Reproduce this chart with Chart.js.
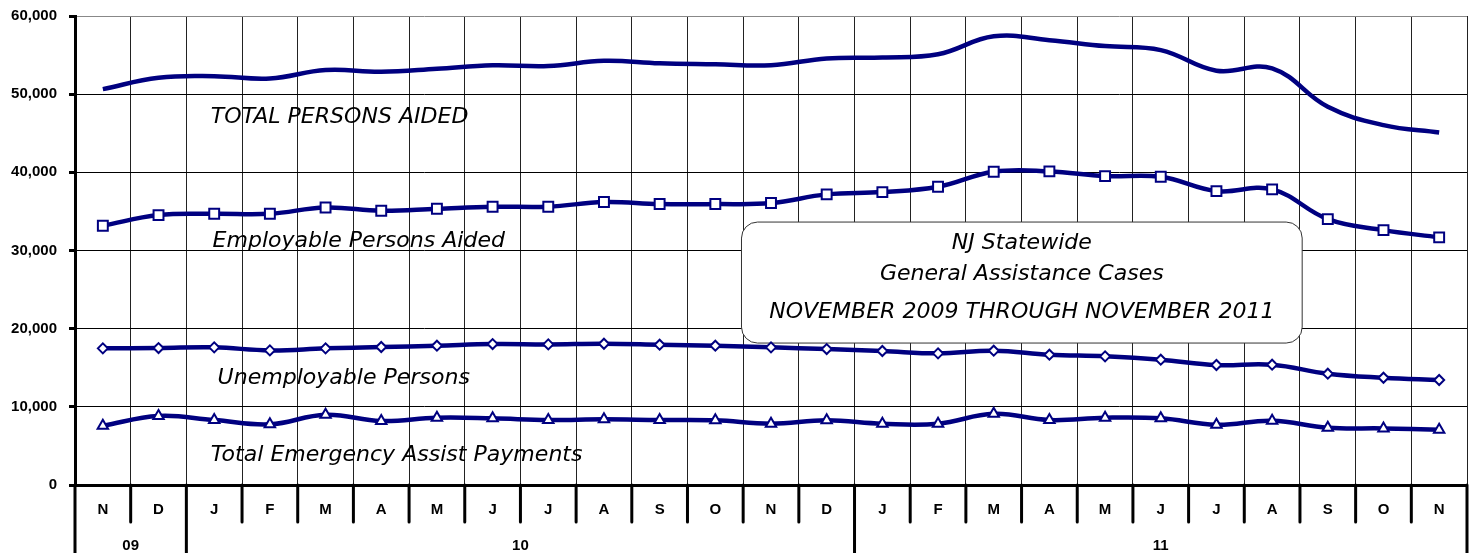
<!DOCTYPE html>
<html>
<head>
<meta charset="utf-8">
<script src="https://cdn.jsdelivr.net/npm/chart.js@4/dist/chart.umd.min.js"></script>
<style>
html,body{margin:0;padding:0;background:#fff;}
#wrap{width:1477px;height:553px;}
</style>
</head>
<body>
<div id="wrap"><canvas id="c" width="1477" height="553"></canvas></div>
<script>
const months = ['N','D','J','F','M','A','M','J','J','A','S','O','N','D','J','F','M','A','M','J','J','A','S','O','N'];
const years = ['09','10','11'];
const yearStart = [0, 2, 14];
const yearCount = [2, 12, 11];

const totalPersons = [50650,52100,52300,52000,53080,52860,53250,53700,53600,54270,53950,53820,53700,54570,54700,55100,57400,56900,56150,55640,53000,53300,48380,46040,45100];
const employable = [33160,34530,34700,34700,35500,35080,35340,35600,35600,36200,35940,35940,36070,37180,37470,38150,40070,40120,39520,39430,37600,37820,34020,32610,31680];
const unemployable = [17480,17520,17610,17220,17480,17650,17820,18030,17990,18070,17950,17820,17610,17390,17140,16840,17180,16670,16460,16030,15350,15390,14240,13720,13430];
const emergency = [7590,8830,8310,7760,8990,8190,8610,8530,8310,8400,8310,8270,7840,8270,7840,7840,9100,8310,8610,8530,7710,8230,7330,7240,7070];

const seriesLabels = ['TOTAL PERSONS AIDED','Employable Persons Aided','Unemployable Persons','Total Emergency Assist Payments'];
const seriesLabelAt = [[1.94,47070],[1.97,31200],[2.06,13560],[1.94,3710]];
const titleLines = ['NJ Statewide','General Assistance Cases','NOVEMBER 2009 THROUGH NOVEMBER 2011'];
const titleBox = {x0:11.47, x1:21.54, y0:33640, y1:18160};
const titleLineAt = [33640-2690, 33640-6780, 33640-11520];

const NAVY = '#000080';
const ITALIC = 'italic 21px "DejaVu Sans"';
const STRETCH = 1.05;
const BOLD = 'bold 15px "Liberation Sans", Arial, sans-serif';

function ds(label, data, style, radius){
  return {
    label, data,
    borderColor: NAVY, borderWidth: 4.5,
    pointStyle: style, pointRadius: radius, pointHoverRadius: radius,
    pointBackgroundColor: '#fff', pointBorderColor: NAVY, pointBorderWidth: 2,
    tension: 0.4, fill: false
  };
}

function stretchedText(ctx, s, px, py, align){
  const w = ctx.measureText(s).width * STRETCH;
  let left = px;
  if (align === 'center') left = px - w / 2;
  ctx.save();
  ctx.translate(left, py);
  ctx.scale(STRETCH, 1);
  ctx.textAlign = 'left';
  ctx.fillText(s, 0, 0);
  ctx.restore();
}

const decor = {
  id: 'decor',
  beforeDatasetsDraw(chart){
    const {ctx, scales:{x, y}} = chart;
    const l = x.getPixelForValue(titleBox.x0), r = x.getPixelForValue(titleBox.x1);
    const t = y.getPixelForValue(titleBox.y0), b = y.getPixelForValue(titleBox.y1);
    ctx.save();
    ctx.beginPath();
    ctx.roundRect(l, t, r - l, b - t, 16);
    ctx.fillStyle = '#fff';
    ctx.fill();
    ctx.lineWidth = 1;
    ctx.strokeStyle = '#333';
    ctx.stroke();
    ctx.restore();
  },
  afterDatasetsDraw(chart){
    const {ctx, scales:{x, y}} = chart;
    ctx.save();
    ctx.fillStyle = '#000';
    ctx.font = ITALIC;
    ctx.textBaseline = 'middle';
    seriesLabels.forEach((s, i) => {
      stretchedText(ctx, s, x.getPixelForValue(seriesLabelAt[i][0]), y.getPixelForValue(seriesLabelAt[i][1]), 'left');
    });
    const cx = (x.getPixelForValue(titleBox.x0) + x.getPixelForValue(titleBox.x1)) / 2;
    titleLines.forEach((s, i) => {
      stretchedText(ctx, s, cx, y.getPixelForValue(titleLineAt[i]), 'center');
    });
    ctx.restore();
  },
  afterDraw(chart){
    const {ctx, scales:{x}} = chart;
    const top = chart.chartArea.bottom;
    const H = chart.height;
    ctx.save();
    ctx.strokeStyle = '#000';
    ctx.lineWidth = 3;
    ctx.lineCap = 'round';
    const yearBounds = new Set(yearStart.map(s => s - 0.5).concat([months.length - 0.5]));
    for (let i = 0; i <= months.length; i++) {
      const v = i - 0.5;
      const px = x.getPixelForValue(v);
      const full = yearBounds.has(v);
      ctx.beginPath();
      ctx.moveTo(px, top);
      ctx.lineTo(px, full ? H + 2 : top + 37);
      ctx.stroke();
    }
    ctx.fillStyle = '#000';
    ctx.font = BOLD;
    ctx.textAlign = 'center';
    ctx.textBaseline = 'middle';
    years.forEach((yl, i) => {
      const a = x.getPixelForValue(yearStart[i] - 0.5);
      const b = x.getPixelForValue(yearStart[i] + yearCount[i] - 0.5);
      ctx.fillText(yl, (a + b) / 2, top + 61);
    });
    ctx.restore();
  }
};

new Chart(document.getElementById('c'), {
  type: 'line',
  data: {
    labels: months,
    datasets: [
      ds('TOTAL PERSONS AIDED', totalPersons, false, 0),
      ds('Employable Persons Aided', employable, 'rect', 7),
      ds('Unemployable Persons', unemployable, 'rectRot', 5),
      ds('Total Emergency Assist Payments', emergency, 'triangle', 6)
    ]
  },
  options: {
    responsive: false,
    animation: false,
    events: [],
    layout: { padding: { top: 16, right: 10, left: 0, bottom: 0 } },
    plugins: { legend: { display: false }, tooltip: { enabled: false }, title: { display: false } },
    scales: {
      x: {
        type: 'category',
        offset: true,
        grid: { offset: true, color: '#222', lineWidth: 1, drawTicks: false },
        border: { display: true, color: '#000', width: 3 },
        ticks: { color: '#000', font: { family: '"Liberation Sans", Arial, sans-serif', size: 15, weight: 'bold' }, padding: 16, maxRotation: 0, autoSkip: false },
        afterFit(s){ s.height = 68; s.paddingLeft = 0; s.paddingRight = 0; }
      },
      y: {
        min: 0, max: 60000,
        grid: {
          color: c => (c.tick && c.tick.value === 60000) ? '#888' : '#000',
          lineWidth: 1, tickLength: 6, tickWidth: 3, tickColor: '#000'
        },
        border: { display: true, color: '#000', width: 3 },
        ticks: {
          stepSize: 10000, color: '#000', padding: 12,
          font: { family: '"Liberation Sans", Arial, sans-serif', size: 15, weight: 'bold' },
          callback: v => v.toLocaleString('en-US')
        },
        afterFit(s){ s.width = 75; s.paddingTop = 0; s.paddingBottom = 0; }
      }
    }
  },
  plugins: [decor]
});
</script>
</body>
</html>
